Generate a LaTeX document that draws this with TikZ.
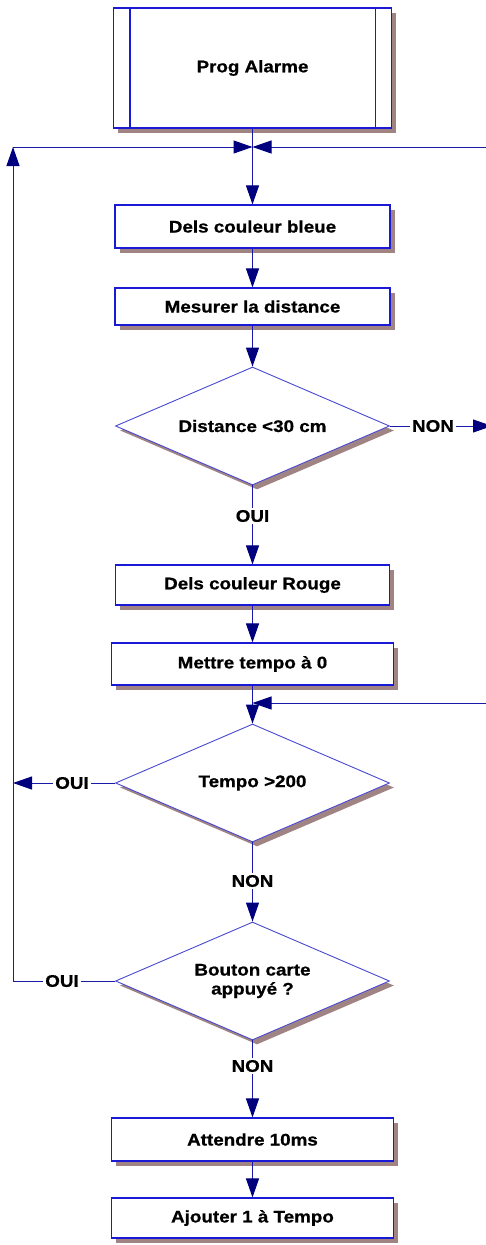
\documentclass[tikz,border=0pt]{standalone}
\usepackage{fontspec}
\newfontfamily\labfont{Liberation Sans}[FakeStretch=1.12, FakeBold=0.8]
\usetikzlibrary{shapes.geometric,arrows.meta,shadows,calc}
\definecolor{boxblue}{HTML}{1A1AD6}
\definecolor{diablue}{HTML}{4848D0}
\definecolor{linkblue}{HTML}{1A1AA8}
\definecolor{tipblue}{HTML}{00007E}
\definecolor{shadowc}{HTML}{A08484}
\tikzset{
  txt/.style={font=\labfont\bfseries\fontsize{16.8}{20}\selectfont, text=black},
  shad/.style={drop shadow={shadow xshift=4.5pt, shadow yshift=-4.5pt, fill=shadowc, opacity=1}},
  stepbox/.style={txt, draw=boxblue, line width=1.1pt, fill=white, shad, rectangle, inner sep=0pt, minimum width=275pt},
  decide/.style={txt, draw=diablue, line width=0.9pt, fill=white, shad, diamond, aspect=2.32, inner sep=0pt, minimum width=274pt, minimum height=118pt, align=center},
  lab/.style={txt, fill=white, inner sep=2pt},
  link/.style={draw=linkblue, line width=1pt},
  arr/.style={link, -{Triangle[length=19pt, width=13pt, fill=tipblue, color=tipblue]}},
}
\begin{document}
\begin{tikzpicture}[x=1pt,y=-1pt]
\useasboundingbox (0,0) rectangle (485,1245);

\node[stepbox, minimum width=278pt, minimum height=120pt] (prog) at (252.5,68) {Prog Alarme};
\draw[draw=boxblue, line width=1.1pt] ($(prog.north west)+(17,0)$) -- ($(prog.south west)+(17,0)$);
\draw[draw=boxblue, line width=1.1pt] ($(prog.north east)+(-17,0)$) -- ($(prog.south east)+(-17,0)$);

\node[stepbox, minimum height=43pt] (dels) at (252.5,226.5) {Dels couleur bleue};
\node[stepbox, minimum height=37pt] (mes) at (252.5,306.5) {Mesurer la distance};
\node[decide] (dist) at (252.5,426) {Distance <30 cm};
\node[stepbox, minimum width=274pt, minimum height=40pt] (rouge) at (252.5,585) {Dels couleur Rouge};
\node[stepbox, minimum width=282pt, minimum height=42pt] (mettre) at (252.5,664) {Mettre tempo à 0};
\node[decide] (tempo) at (252.5,783) {Tempo >200};
\node[decide] (bouton) at (252.5,981) {Bouton carte\\[-1pt]appuyé ?};
\node[stepbox, minimum width=282pt, minimum height=43pt] (att) at (252.5,1139.5) {Attendre 10ms};
\node[stepbox, minimum width=282pt, minimum height=40pt] (ajo) at (252.5,1218) {Ajouter 1 à Tempo};

% labels
\node[lab] (non1) at (433,426) {NON};
\node[lab] (oui1) at (252.5,516) {OUI};
\node[lab] (oui2) at (72,783) {OUI};
\node[lab] (non2) at (252.5,881) {NON};
\node[lab] (oui3) at (62,981) {OUI};
\node[lab] (non3) at (252.5,1066) {NON};

% junction coordinates
\coordinate (J) at (252.5,147);
\coordinate (L) at (13,147);
\coordinate (R) at (486,147);
\coordinate (J2) at (252.5,703);
\coordinate (R2) at (486,703);
\coordinate (Rn) at (492,426);
\coordinate (L2) at (13,783);
\coordinate (L3) at (13,981);

% connectors
\draw[link] (prog.south) -- (J);
\draw[arr] (J) -- (dels.north);
\draw[arr] (L) -- (J);
\draw[arr] (R) -- (J);
\draw[arr] (dels.south) -- (mes.north);
\draw[arr] (mes.south) -- (dist.north);
\draw[link] (dist.east) -- (non1.west);
\draw[arr] (non1.east) -- (Rn);
\draw[link] (dist.south) -- (oui1.north);
\draw[arr] (oui1.south) -- (rouge.north);
\draw[arr] (rouge.south) -- (mettre.north);
\draw[link] (mettre.south) -- (J2);
\draw[arr] (J2) -- (tempo.north);
\draw[arr] (R2) -- (J2);
\draw[link] (tempo.west) -- (oui2.east);
\draw[arr] (oui2.west) -- (L2);
\draw[link] (tempo.south) -- (non2.north);
\draw[arr] (non2.south) -- (bouton.north);
\draw[link] (bouton.west) -- (oui3.east);
\draw[arr] (oui3.west) -- (L3) -- (L);
\draw[link] (bouton.south) -- (non3.north);
\draw[arr] (non3.south) -- (att.north);
\draw[arr] (att.south) -- (ajo.north);
\end{tikzpicture}
\end{document}
